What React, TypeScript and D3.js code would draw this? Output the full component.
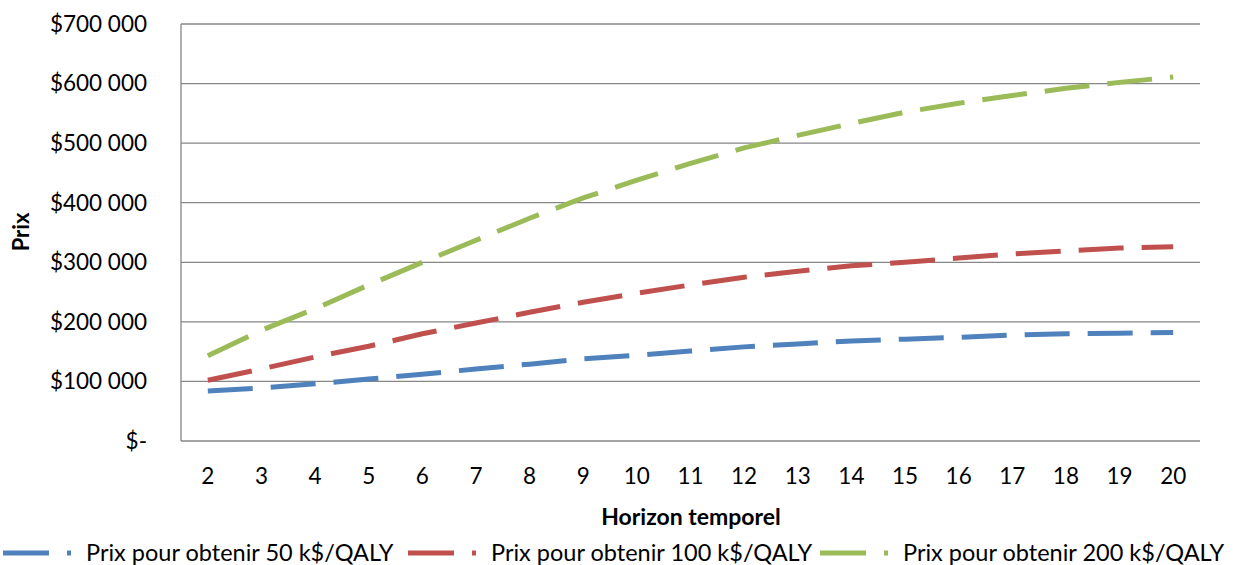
import React from "react";
import * as d3 from "d3";

const categories = ["2","3","4","5","6","7","8","9","10","11","12","13","14","15","16","17","18","19","20"];
const series50 = [84000, 89000, 96000, 104000, 112000, 121000, 129000, 138000, 144000, 151000, 158000, 163000, 168000, 171000, 174000, 178000, 180000, 181000, 182000];
const series100 = [102000, 121000, 141000, 159000, 180000, 198000, 216000, 233000, 248000, 262000, 275000, 285000, 294000, 300000, 307000, 314000, 319000, 324000, 326000];
const series200 = [143000, 186000, 222000, 262000, 300000, 337000, 374000, 408000, 438000, 466000, 492000, 513000, 533000, 552000, 567000, 580000, 592000, 602000, 611000];
const yTicks = [0, 100000, 200000, 300000, 400000, 500000, 600000, 700000];
const seriesNames = ["Prix pour obtenir 50 k$/QALY", "Prix pour obtenir 100 k$/QALY", "Prix pour obtenir 200 k$/QALY"];
const colors = ["#4F81BD", "#C0504D", "#9BBB59"];

const W = 1233, H = 565;
const left = 181, right = 1200, top = 24, bottom = 441;
const FONT = "Lato, 'Open Sans', sans-serif";

function fmt(v: number) {
  if (v === 0) return "$-";
  const s = String(v);
  return "$" + s.slice(0, s.length - 3) + " " + s.slice(-3);
}

export default function App() {
  const x = d3.scaleBand<string>().domain(categories).range([left, right]);
  const y = d3.scaleLinear().domain([0, 700000]).range([bottom, top]);
  const line = d3.line<number>()
    .x((_, i) => (x(categories[i]) as number) + x.bandwidth() / 2)
    .y((d) => y(d));
  const all = [series50, series100, series200];
  const legendX = [3, 408, 820];
  return (
    <svg width={W} height={H} style={{ position: "absolute", left: 0, top: 0, background: "#fff" }} fontFamily={FONT}>
      {yTicks.map((t) => (
        <g key={t}>
          {t > 0 && <line x1={left} x2={right} y1={y(t)} y2={y(t)} stroke="#868686" strokeWidth={1.3} />}
          <text x={left - 34} y={y(t)} dy="0.35em" textAnchor="end" fontSize={22.5} fill="#000">{fmt(t)}</text>
        </g>
      ))}
      <line x1={left} x2={left} y1={top} y2={bottom} stroke="#868686" strokeWidth={1.3} />
      <line x1={left} x2={right} y1={bottom} y2={bottom} stroke="#868686" strokeWidth={1.3} />
      {categories.map((c) => (
        <text key={c} x={(x(c) as number) + x.bandwidth() / 2} y={476} dy="0.35em" textAnchor="middle" fontSize={22.5} fill="#000">{c}</text>
      ))}
      {all.map((s, i) => (
        <path key={i} d={line(s) || ""} fill="none" stroke={colors[i]} strokeWidth={5} strokeDasharray="45 18" />
      ))}
      <text transform={`translate(29,232) rotate(-90)`} textAnchor="middle" fontSize={22} fontWeight="bold">Prix</text>
      <text x={691} y={517} dy="0.35em" textAnchor="middle" fontSize={23} fontWeight="bold">Horizon temporel</text>
      {seriesNames.map((n, i) => (
        <g key={n}>
          <line x1={legendX[i]} x2={legendX[i] + 68} y1={553} y2={553} stroke={colors[i]} strokeWidth={5} strokeDasharray="46 18" />
          <text x={legendX[i] + 83} y={553} dy="0.35em" fontSize={23.5} fill="#000">{n}</text>
        </g>
      ))}
    </svg>
  );
}
